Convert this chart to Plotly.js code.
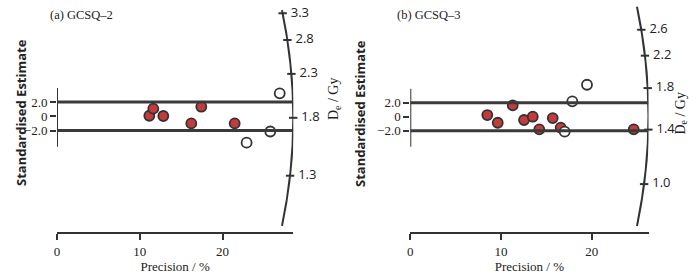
<!DOCTYPE html>
<html>
<head>
<meta charset="utf-8">
<script src="https://cdn.plot.ly/plotly-3.0.1.min.js"></script>
<style>
  html, body { margin: 0; padding: 0; background: #fff; }
  #chart { width: 700px; height: 278px; }
</style>
</head>
<body>
<div id="chart"></div>
<script>
// (a) GCSQ-2: accepted aliquots (red) and rejected ones (open)
var precA = [11.15, 11.63, 12.84, 16.22, 17.43, 21.46];
var stdA = [0.08, 1.07, 0.04, -1.0, 1.35, -1.0];
var precOpenA = [26.9, 25.76, 22.9];
var stdOpenA = [3.24, -2.14, -3.72];
var deTicksA = [3.3, 2.8, 2.3, 1.8, 1.3];

// (b) GCSQ-3
var precB = [8.49, 9.64, 11.29, 12.54, 13.5, 14.22, 15.7, 16.58, 24.63];
var stdB = [0.24, -0.86, 1.63, -0.47, 0.0, -1.8, -0.19, -1.57, -1.8];
var precOpenB = [17.86, 19.48, 17.02];
var stdOpenB = [2.2, 4.57, -2.14];
var deTicksB = [2.6, 2.2, 1.8, 1.4, 1.0];

var precTicks = [0, 10, 20];
var stdTicks = [-2, 0, 2];
var stdTickText = ['\u22122.0', '0', '2.0'];

var dark = '#333333';
var red = '#c43b3d';
var serif = 'Liberation Serif, Times New Roman, serif';
var sans = 'Open Sans, Arial, sans-serif';

// radial scale of each panel: central dose, slope factor and the arc (x = xR - c*(y-yv)^2)
var geoA = {d0: 1.815, k: 0.891, xR: 28.54, c: 0.00591, yv: -0.24, h: 15.2};
var geoB = {d0: 1.5135, k: 0.9013, xR: 26.26, c: 0.00517, yv: 0.05, h: 15.66};

function arcX(g, y) {
    return g.xR - g.c * (y - g.yv) * (y - g.yv);
}

// where the ray through the origin for dose D meets the arc
function arcPoint(g, d) {
    var s = g.k * Math.log(d / g.d0);
    var x = g.xR, y = 0;
    for (var i = 0; i < 20; i++) {
        y = s * x;
        x = arcX(g, y);
    }
    return [x, y];
}

function panelTraces(prec, std, precOpen, stdOpen, deTicks, g, xa, ya) {
    var tx = [], ty = [], tt = [];
    deTicks.forEach(function (d) {
        var p = arcPoint(g, d);
        tx.push(Math.min(p[0], g.xR - 0.01));
        ty.push(p[1]);
        tt.push(' ' + d.toFixed(1));
    });
    return [
        {
            x: prec, y: std, xaxis: xa, yaxis: ya,
            type: 'scatter', mode: 'markers', cliponaxis: false,
            marker: {size: 10, color: red, line: {color: dark, width: 1.8}}
        },
        {
            x: precOpen, y: stdOpen, xaxis: xa, yaxis: ya,
            type: 'scatter', mode: 'markers', cliponaxis: false,
            marker: {size: 10, color: '#ffffff', line: {color: dark, width: 1.8}}
        },
        {
            x: tx, y: ty, text: tt, xaxis: xa, yaxis: ya,
            type: 'scatter', mode: 'markers+text', cliponaxis: false,
            textposition: 'middle right',
            textfont: {family: sans, size: 13, color: '#222'},
            marker: {symbol: 'line-ew', size: 6, line: {color: dark, width: 2}}
        }
    ];
}

function panelShapes(g, xa, ya) {
    var x0 = g.xR - g.c * g.h * g.h;
    return [
        {type: 'path', xref: xa, yref: ya,
         path: 'M ' + x0 + ',' + (g.yv + g.h) + ' Q ' + (g.xR + g.c * g.h * g.h) + ',' + g.yv + ' ' + x0 + ',' + (g.yv - g.h),
         line: {color: dark, width: 2}},
        {type: 'line', xref: xa, yref: ya, x0: 0, x1: 0, y0: -4.3, y1: 4.0,
         line: {color: dark, width: 2}},
        {type: 'line', xref: xa, yref: ya, x0: 0, x1: arcX(g, 2), y0: 2, y1: 2,
         line: {color: '#3a3a3a', width: 3}},
        {type: 'line', xref: xa, yref: ya, x0: 0, x1: arcX(g, -2), y0: -2, y1: -2,
         line: {color: '#3a3a3a', width: 3}}
    ];
}

function xAxis(domain, range, anchor) {
    return {
        domain: domain, range: range, anchor: anchor,
        showline: true, linecolor: dark, linewidth: 2,
        ticks: 'outside', ticklen: 6, tickwidth: 2, tickcolor: dark,
        tickvals: precTicks, tickfont: {family: serif, size: 13, color: '#222'},
        showgrid: false, zeroline: false,
        title: {text: 'Precision / %', font: {family: serif, size: 13, color: '#222'}, standoff: 3}
    };
}

function yAxis(domain, range, anchor) {
    return {
        domain: domain, range: range, anchor: anchor,
        showline: false,
        ticks: 'outside', ticklen: 6, tickwidth: 2, tickcolor: dark,
        tickvals: stdTicks, ticktext: stdTickText,
        tickfont: {family: serif, size: 13, color: '#222'},
        showgrid: false, zeroline: false
    };
}

var data = panelTraces(precA, stdA, precOpenA, stdOpenA, deTicksA, geoA, 'x', 'y')
    .concat(panelTraces(precB, stdB, precOpenB, stdOpenB, deTicksB, geoB, 'x2', 'y2'));

var layout = {
    width: 700, height: 278,
    margin: {l: 0, r: 0, t: 0, b: 0},
    paper_bgcolor: '#fff', plot_bgcolor: 'rgba(0,0,0,0)',
    showlegend: false,
    xaxis: xAxis([57 / 700, 293.3 / 700], [0, 28.54], 'y'),
    yaxis: yAxis([46 / 278, 273 / 278], [-16.3, 15.68], 'x'),
    xaxis2: xAxis([410.3 / 700, 648.5 / 700], [0, 26.26], 'y2'),
    yaxis2: yAxis([46 / 278, 273 / 278], [-16.47, 15.96], 'x2'),
    shapes: panelShapes(geoA, 'x', 'y').concat(panelShapes(geoB, 'x2', 'y2')),
    annotations: [
        {text: '(a) GCSQ\u20132', xref: 'paper', yref: 'paper', x: 48 / 700, y: 1 - 15 / 278,
         xanchor: 'left', yanchor: 'middle', showarrow: false, font: {family: serif, size: 12.5, color: '#222'}},
        {text: '(b) GCSQ\u20133', xref: 'paper', yref: 'paper', x: 395 / 700, y: 1 - 15 / 278,
         xanchor: 'left', yanchor: 'middle', showarrow: false, font: {family: serif, size: 12.5, color: '#222'}},
        {text: '<b>Standardised Estimate</b>', xref: 'paper', yref: 'paper', x: 10 / 700, y: 1 - 113 / 278,
         textangle: -90, showarrow: false, font: {family: sans, size: 13, color: '#222'}},
        {text: '<b>Standardised Estimate</b>', xref: 'paper', yref: 'paper', x: 360 / 700, y: 1 - 113 / 278,
         textangle: -90, showarrow: false, font: {family: sans, size: 13, color: '#222'}},
        {text: 'D<sub>e</sub> / Gy', xref: 'paper', yref: 'paper', x: 334 / 700, y: 1 - 99 / 278,
         textangle: -90, showarrow: false, font: {family: serif, size: 14, color: '#222'}},
        {text: 'D<sub>e</sub> / Gy', xref: 'paper', yref: 'paper', x: 691 / 700, y: 1 - 114 / 278,
         textangle: -90, showarrow: false, font: {family: serif, size: 14, color: '#222'}}
    ]
};

Plotly.newPlot('chart', data, layout, {staticPlot: true});
</script>
</body>
</html>
